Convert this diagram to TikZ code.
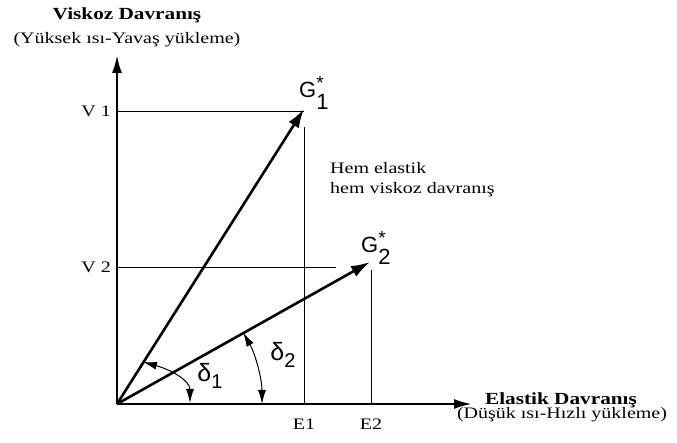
\documentclass[tikz,border=0pt]{standalone}
\usepackage{fontspec}
\setmainfont{Liberation Serif}[FakeStretch=1.25]
\newfontfamily\symfont{Liberation Sans}
\usetikzlibrary{arrows.meta}
\newcommand{\gstar}[1]{G\rlap{\raisebox{0.4em}{\fontsize{19}{19}\selectfont *}}\raisebox{-0.55em}{#1}}

\begin{document}
\begin{tikzpicture}[x=1pt,y=1pt]
	\tikzset{
		axis/.style={line width=2.4pt,-{Latex[length=18pt,width=10pt]}},
		vec/.style={line width=2.6pt,-{Latex[length=19pt,width=12pt]}},
		guide/.style={line width=0.9pt},
		angarrow/.style={line width=1pt,{Latex[length=14pt,width=8pt]}-{Latex[length=14pt,width=8pt]}},
		lbl/.style={font=\fontsize{16}{20}\selectfont,inner sep=0pt},
		title/.style={font=\fontsize{17}{20}\selectfont\bfseries,inner sep=0pt},
		glbl/.style={font=\fontsize{22}{24}\selectfont\symfont,inner sep=0pt}
	}
	\useasboundingbox (0,0) rectangle (677,443);
	% axes
	\coordinate (O) at (117,39);
	\coordinate (ytop) at (117,388);
	\coordinate (xend) at (472,39);
	\draw[axis] (O) -- (ytop);
	\draw[axis] (O) -- (xend);
	\node[title] (ytitle) at (127,428) {Viskoz Davranış};
	\node[lbl] (ysub) at (127,403) {(Yüksek ısı-Yavaş yükleme)};
	\node[title] (xtitle) at (561,43) {Elastik Davranış};
	\node[lbl] (xsub) at (562,28) {(Düşük ısı-Hızlı yükleme)};
	% vectors
	\coordinate (G1) at (304,334);
	\coordinate (G2) at (370,181);
	\draw[vec] (O) -- (G1);
	\draw[vec] (O) -- (G2);
	\node[glbl,anchor=west] (g1lab) at (299,350) {\gstar{1}};
	\node[glbl,anchor=west] (g2lab) at (361,195) {\gstar{2}};
	% guide lines
	\coordinate (v1) at (117,332);
	\coordinate (v2) at (117,176);
	\coordinate (e1) at (304,39);
	\coordinate (e2) at (371,39);
	\coordinate (e1top) at (304,316);
	\coordinate (e2top) at (371,173);
	\coordinate (v2end) at (336,176);
	\draw[guide] (v1) -- (v1 -| G1);
	\draw[guide] (v2) -- (v2end);
	\draw[guide] (e1) -- (e1top);
	\draw[guide] (e2) -- (e2top);
	\node[lbl,anchor=east] (v1lab) at (111,332) {V 1};
	\node[lbl,anchor=east] (v2lab) at (111,176) {V 2};
	\node[lbl] (e1lab) at (304,19) {E1};
	\node[lbl] (e2lab) at (371,19) {E2};
	\node[lbl,anchor=west,align=left] (both) at (330,263) {Hem elastik\\hem viskoz davranış};
	% angles
	\coordinate (d1a) at (143,81);
	\coordinate (d1b) at (190,40);
	\draw[angarrow] (d1a) .. controls (172,73) and (190,62) .. (d1b);
	\draw[angarrow] ([shift={(29.5:145)}]O) arc[start angle=29.5,end angle=0,radius=145];
	\node[glbl] (d1lab) at (210,67) {\fontsize{25}{25}\selectfont δ\raisebox{-0.25em}{\fontsize{20}{20}\selectfont 1}};
	\node[glbl] (d2lab) at (283,88) {\fontsize{25}{25}\selectfont δ\raisebox{-0.25em}{\fontsize{20}{20}\selectfont 2}};
\end{tikzpicture}
\end{document}
